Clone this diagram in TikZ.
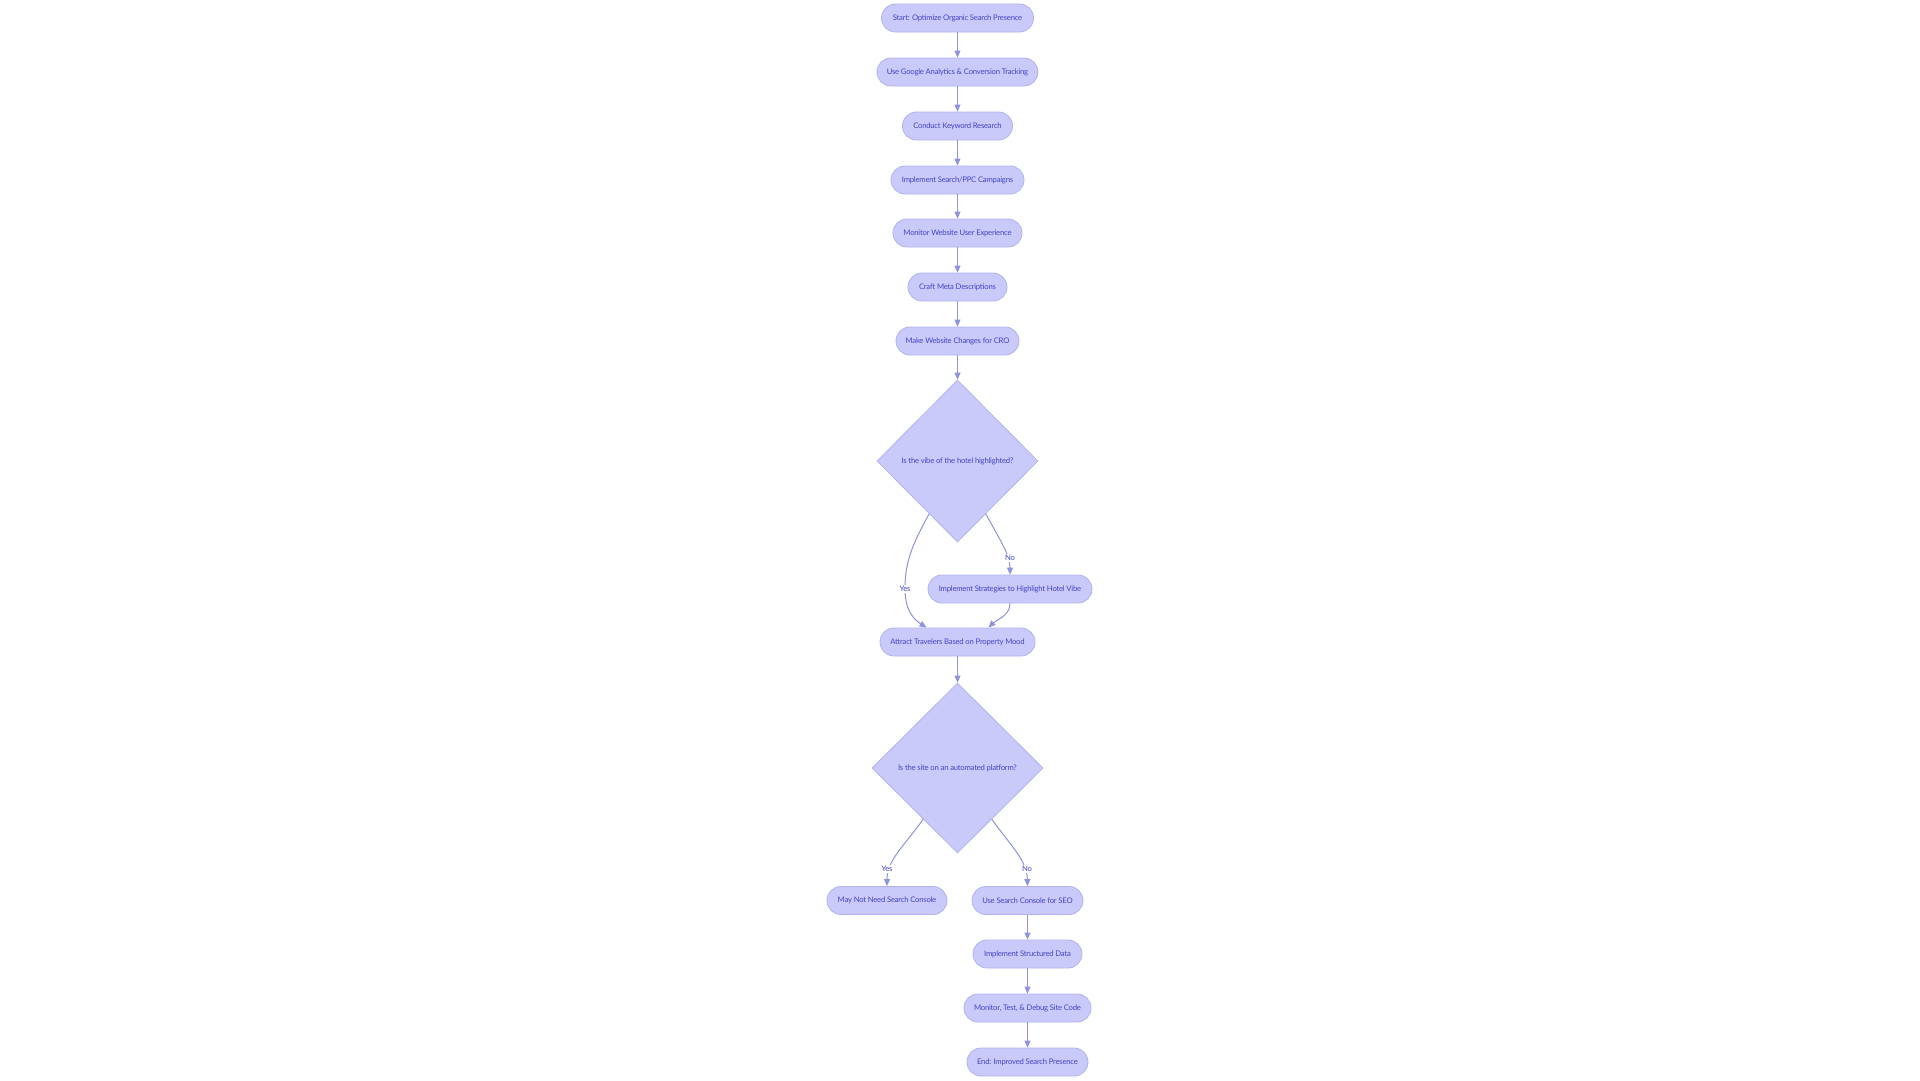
\documentclass[tikz,border=0pt]{standalone}
\usepackage{fontspec}
\setmainfont{Lato}[LetterSpace=-3]
\usetikzlibrary{shapes.geometric,arrows.meta,calc}
\definecolor{nodefill}{HTML}{C9CAF9}
\definecolor{nodeline}{HTML}{B0B2EE}
\definecolor{txt}{HTML}{4444C8}
\definecolor{edge}{HTML}{8F93DD}
\tikzset{
  stadium/.style={draw=nodeline, fill=nodefill, line width=0.8pt, rounded corners=13.9pt,
    minimum height=28pt, inner sep=0pt, text=txt, font=\fontsize{7.7pt}{9pt}\selectfont},
  decision/.style={diamond, aspect=1, draw=nodeline, fill=nodefill, line width=0.8pt, inner sep=0pt,
    text=txt, font=\fontsize{7.7pt}{9pt}\selectfont},
  conn/.style={draw=edge, line width=1pt, -{Triangle[length=7pt,width=6pt]}},
  elabel/.style={fill=white, inner sep=1pt, text=txt, font=\fontsize{7.7pt}{9pt}\selectfont}
}
\begin{document}
\begin{tikzpicture}[x=1pt,y=-1pt]
\useasboundingbox[fill=white] (0,0) rectangle (1920,1080);
\node[stadium, minimum width=152pt] (s1) at (957.5,18) {Start: Optimize Organic Search Presence};
\node[stadium, minimum width=161pt] (s2) at (957.5,72) {Use Google Analytics \& Conversion Tracking};
\node[stadium, minimum width=110pt] (s3) at (957.5,126) {Conduct Keyword Research};
\node[stadium, minimum width=133pt] (s4) at (957.5,180) {Implement Search/PPC Campaigns};
\node[stadium, minimum width=129pt] (s5) at (957.5,233) {Monitor Website User Experience};
\node[stadium, minimum width=99pt] (s6) at (957.5,287) {Craft Meta Descriptions};
\node[stadium, minimum width=123pt] (s7) at (957.5,341) {Make Website Changes for CRO};
\node[decision, minimum width=161pt, minimum height=162pt] (d1) at (957.5,461) {Is the vibe of the hotel highlighted?};
\node[stadium, minimum width=164pt] (is) at (1010,589) {Implement Strategies to Highlight Hotel Vibe};
\node[stadium, minimum width=155pt] (at) at (957.5,642) {Attract Travelers Based on Property Mood};
\node[decision, minimum width=171pt, minimum height=170pt] (d2) at (957.5,768) {Is the site on an automated platform?};
\node[stadium, minimum width=120pt] (mn) at (887,900.5) {May Not Need Search Console};
\node[stadium, minimum width=111pt] (us) at (1027.5,900.5) {Use Search Console for SEO};
\node[stadium, minimum width=109pt] (sd) at (1027.5,954) {Implement Structured Data};
\node[stadium, minimum width=127pt] (mt) at (1027.5,1008) {Monitor, Test, \& Debug Site Code};
\node[stadium, minimum width=121pt] (en) at (1027.5,1062) {End: Improved Search Presence};

\draw[conn] (s1) -- (s2);
\draw[conn] (s2) -- (s3);
\draw[conn] (s3) -- (s4);
\draw[conn] (s4) -- (s5);
\draw[conn] (s5) -- (s6);
\draw[conn] (s6) -- (s7);
\draw[conn] (s7) -- (d1);
% decision 1
\coordinate (d1y) at ($(d1.west)!0.65!(d1.south)$);
\coordinate (d1n) at ($(d1.east)!0.65!(d1.south)$);
\coordinate (atl) at ($(at.north)+(-31,0)$);
\coordinate (atr) at ($(at.north)+(31,0)$);
\draw[conn] (d1y) .. controls (910,548) and (905,565) .. (905,589)
  .. controls (905,612) and (915,620) .. (atl);
\node[elabel] (ly1) at (905,589) {Yes};
\draw[conn] (d1n) .. controls (1000,540) and (1010,555) .. (is.north);
\node[elabel] (ln1) at (1010,558) {No};
\draw[conn] (is.south) .. controls (1010,616) and (996,620) .. (atr);
\draw[conn] (at) -- (d2);
% decision 2
\coordinate (d2y) at ($(d2.west)!0.6!(d2.south)$);
\coordinate (d2n) at ($(d2.east)!0.6!(d2.south)$);
\draw[conn] (d2y) .. controls (905,845) and (887,860) .. (mn.north);
\node[elabel] (ly2) at (887,869) {Yes};
\draw[conn] (d2n) .. controls (1010,845) and (1027,860) .. (us.north);
\node[elabel] (ln2) at (1027,869) {No};
\draw[conn] (us) -- (sd);
\draw[conn] (sd) -- (mt);
\draw[conn] (mt) -- (en);
\end{tikzpicture}
\end{document}
